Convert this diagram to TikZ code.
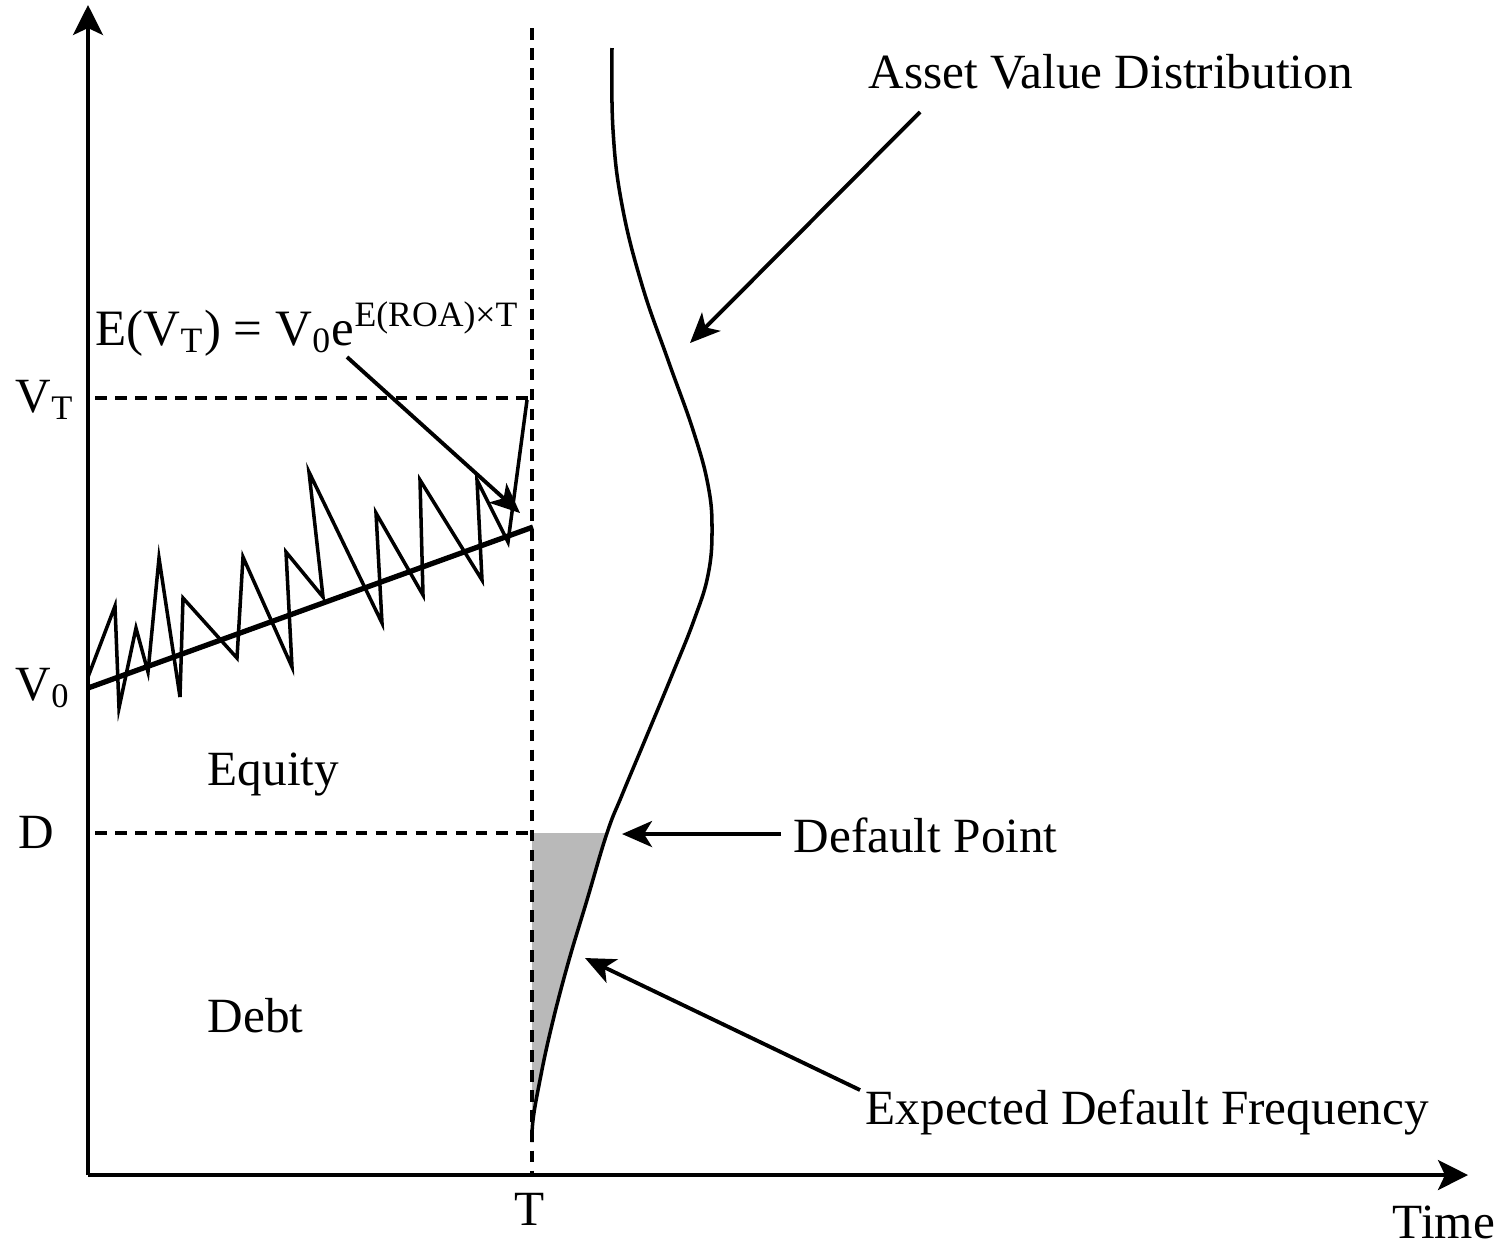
\documentclass[tikz,border=0pt]{standalone}
\usepackage{fontspec}
\setmainfont{Liberation Serif}
\usetikzlibrary{arrows.meta}

\begin{document}
\begin{tikzpicture}[x=0.01cm, y=-0.01cm,
    lbl/.style={font=\fontsize{14}{16}\selectfont, inner sep=0pt, anchor=base west},
    axis/.style={line width=1pt, -{Stealth[length=3mm,width=3mm,inset=0.7mm]}},
    guide/.style={dash pattern=on 3.3pt off 2.4pt, line width=1pt},
    pointer/.style={line width=1.1pt, -{Stealth[length=3mm,width=2.6mm,inset=0.8mm]}}]
    % fix the page to the size of the reference
    \useasboundingbox (0,0) rectangle (1507,1250);

    % origin, end points of the axes
    \coordinate (O) at (88,1175);
    \coordinate (ytop) at (88,5);
    \coordinate (xend) at (1468,1175);

    % shaded lower tail of the distribution (below the default point)
    \begin{scope}
        \clip (532,833) rectangle (760,1175);
        \fill[gray!55] plot[smooth, tension=0.7] coordinates {(612,48) (613,130) (622,205) (642,285)
            (668,360) (693,430) (708,485) (712,530) (708,575) (694,620) (672,675) (645,740)
            (622,795) (607,833) (587,900) (567,967) (550,1033) (539,1085) (533,1120) (532,1142)}
            -- (532,48) -- cycle;
    \end{scope}

    % dashed guides
    \draw[guide] (532,28) -- (532,1175);
    \draw[guide] (95,398) -- (532,398);
    \draw[guide] (95,833) -- (532,833);

    % axes
    \draw[axis] (O) -- (ytop);
    \draw[axis] (O) -- (xend);

    % expected growth line and a sample path of the asset value
    \draw[line width=1.5pt] (88,688) -- (533,527);
    \draw[line width=1pt, line join=miter] plot coordinates {(88,677) (115,606) (119,708) (136,628)
        (148,672) (159,558) (180,697) (183,598) (237,658) (243,557) (292,667) (286,552) (323,597)
        (309,472) (382,623) (376,513) (423,595) (420,480) (482,580) (477,480) (508,542) (527,400)};

    % asset value distribution at T
    \draw[line width=1pt] plot[smooth, tension=0.7] coordinates {(612,48) (613,130) (622,205) (642,285)
        (668,360) (693,430) (708,485) (712,530) (708,575) (694,620) (672,675) (645,740)
        (622,795) (607,833) (587,900) (567,967) (550,1033) (539,1085) (533,1120) (532,1142)};

    % axis labels
    \node[lbl] (vT) at (15,412) {V\textsubscript{T}};
    \node[lbl] (v0) at (15,700) {V\textsubscript{0}};
    \node[lbl] (dlab) at (18,848) {D};
    \node[lbl, anchor=base] (tlab) at (530,1225) {T};
    \node[lbl] (time) at (1392,1238) {Time};

    % region labels
    \node[lbl] (equity) at (207,785) {Equity};
    \node[lbl] (debt) at (207,1032) {Debt};

    % callouts
    \node[lbl, font=\fontsize{14.5}{16}\selectfont] (ev) at (95,345)
        {E(V\textsubscript{T}) = V\textsubscript{0}e\textsuperscript{E(ROA)×T}};
    \node[lbl] (avd) at (868,88) {Asset Value Distribution};
    \node[lbl] (dp) at (793,852) {Default Point};
    \node[lbl] (edf) at (865,1124) {Expected Default Frequency};

    \coordinate (evtail) at (347,357);
    \coordinate (evtip) at (520,513);
    \coordinate (avdtail) at (920,112);
    \coordinate (avdtip) at (690,343);
    \coordinate (dptip) at (622,834);
    \coordinate (edftail) at (860,1090);
    \coordinate (edftip) at (585,958);

    \draw[pointer] (evtail) -- (evtip);
    \draw[pointer] (avdtail) -- (avdtip);
    \draw[pointer] (dp.west |- dptip) ++(-12,0) coordinate (dptail) -- (dptip);
    \draw[pointer] (edftail) -- (edftip);
\end{tikzpicture}
\end{document}
